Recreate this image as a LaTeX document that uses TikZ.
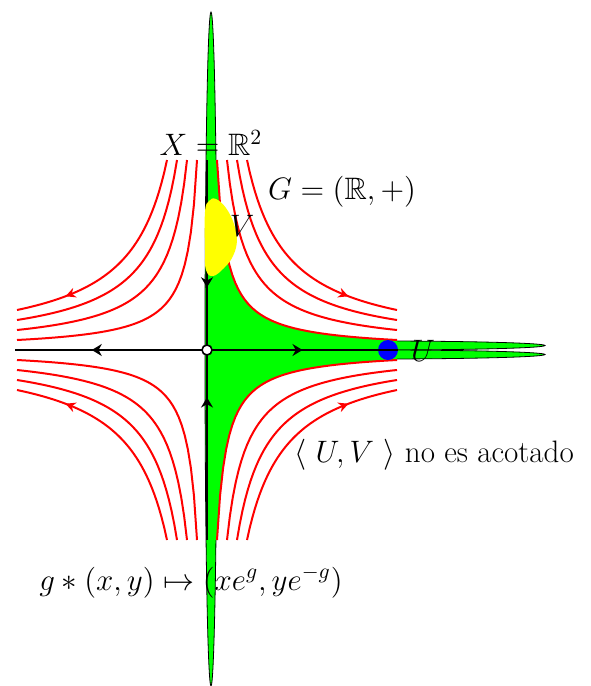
\RequirePackage{fix-cm}
\documentclass[tikz,border=0pt]{standalone}
\usepackage{amsmath,amssymb}
\usetikzlibrary{arrows.meta,decorations.markings}
\definecolor{orbgreen}{RGB}{0,255,0}
\definecolor{vyellow}{RGB}{255,255,0}
\tikzset{
  flow/.style   ={red, line width=1pt},
  flowar/.style ={flow, postaction={decorate}, decoration={markings,
                  mark=at position 0.78 with {\arrow{Stealth[length=5pt,width=5pt]}}}},
  ax/.style     ={black, line width=1.2pt},
  axar/.style   ={ax, postaction={decorate}, decoration={markings,
                  mark=at position #1 with {\arrow{Stealth[length=5pt,width=6pt]}}}},
  orb/.style    ={fill=orbgreen, draw=black, line width=0.4pt},
  lbl/.style    ={inner sep=0pt},
}

\begin{document}
\begin{tikzpicture}[x=0.5pt, y=-0.5pt, font=\fontsize{15.5}{18}\selectfont]
\useasboundingbox (0,0) rectangle (590,686);

\coordinate (O) at (207,350);
\coordinate (W) at (15,350);
\coordinate (E) at (398,350);
\coordinate (N) at (207,160);
\coordinate (S) at (207,540);

% thin orbit neighbourhoods
\draw[orb] (211,349) ellipse [x radius=6, y radius=337];
\draw[orb] (376,345.5) ellipse [x radius=169, y radius=4.5];
\draw[orb] (376,354.5) ellipse [x radius=169, y radius=4.5];

\begin{scope}[shift={(O)}, yscale=-1]
  % green region between the axes and the inner hyperbola
  \fill[orbgreen] (0,190) -- (10,190)
    -- plot[domain=10:190, samples=60] (\x,{1900/\x})
    -- (190,-10)
    -- plot[domain=190:10, samples=60] (\x,{-1900/\x})
    -- (0,-190) -- cycle;
  % flow lines x y = c
  \foreach \sx/\sy in {1/1,-1/1,1/-1,-1/-1}{
    \begin{scope}[xscale=\sx, yscale=\sy]
      \foreach \k in {1,2,3}{
        \pgfmathsetmacro\xa{10*\k}
        \draw[flow] plot[domain=\xa:190, samples=60] (\x,{1900*\k/\x});
      }
      \draw[flowar] plot[domain=40:190, samples=60] (\x,{7600/\x});
    \end{scope}
  }
\end{scope}

\node[circle, fill=blue, minimum size=10pt, inner sep=0pt] (u) at (388,350) {};

\draw[axar=0.6] (O) -- (W);
\draw[axar=0.5] (O) -- (E);
\draw[axar=0.67] (N) -- (O);
\draw[axar=0.75] (S) -- (O);
\node[circle, draw, fill=white, line width=0.8pt, minimum size=5pt, inner sep=0pt] (orig) at (O) {};

% the open set V
\fill[vyellow] plot[smooth cycle, tension=0.7] coordinates {(205,212) (209,201) (216,199)
  (226,208) (234,224) (237,240) (233,256) (224,268) (213,276) (206,270) (205,250)};

\node[lbl] (vlab) at (242,226) {$V$};
\node[lbl] (ulab) at (423,351) {$U$};
\node[lbl] (xlab) at (211,143) {$X=\mathbb{R}^2$};
\node[lbl] (glab) at (342,192) {$G=(\mathbb{R},+)$};
\node[lbl] (uvlab) at (434,455) {$\langle\ U,V\ \rangle$ no es acotado};
\node[lbl] (act) at (191,582) {$g*(x,y)\mapsto(xe^{g},ye^{-g})$};

\end{tikzpicture}
\end{document}
